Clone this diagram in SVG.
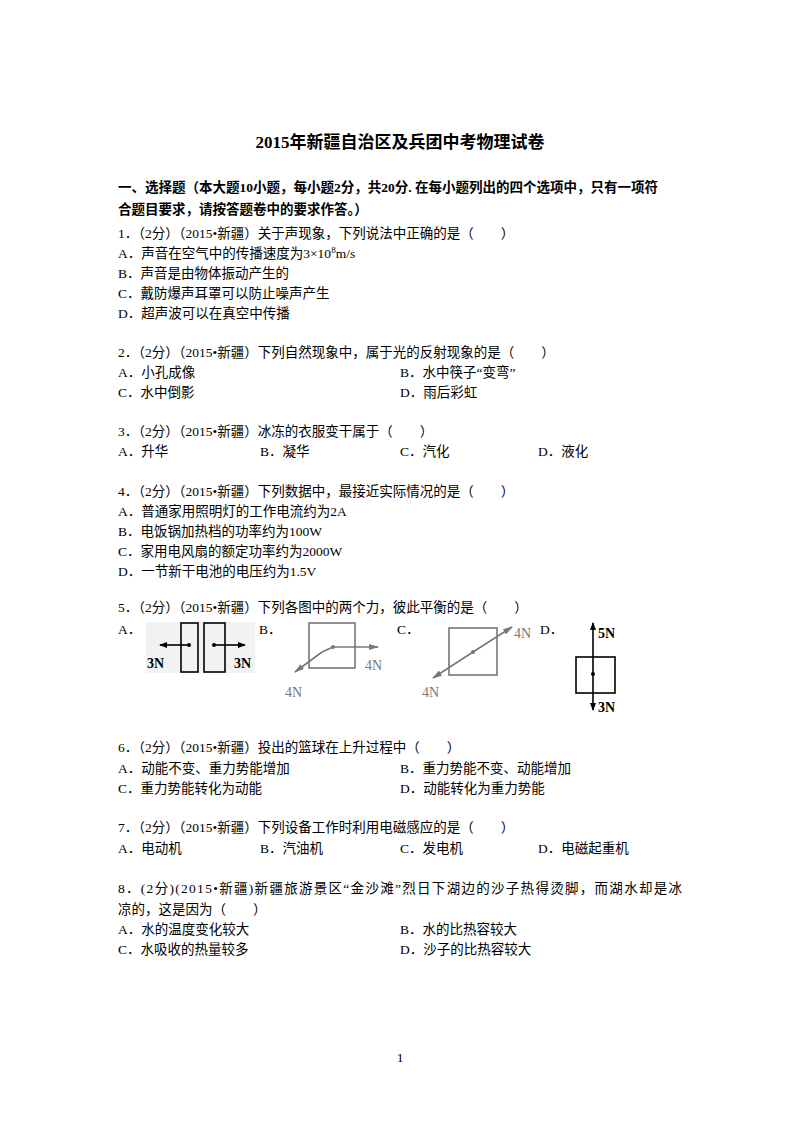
<svg xmlns="http://www.w3.org/2000/svg" width="800" height="1132" viewBox="0 0 800 1132">
<style>
text{font-family:"Liberation Serif","Noto Sans CJK SC",serif;font-size:13.5px;fill:#000}
.t{font-size:17px;font-weight:bold}
.b{font-weight:bold}
.f{font-family:"Liberation Serif",serif;font-size:14px}
.g{fill:#777}
.s{stroke:#000;stroke-width:1.6;fill:none}
.sg{stroke:#777;stroke-width:1.6;fill:none}
</style>
<defs>
<marker id="ak" markerWidth="8" markerHeight="6" refX="7" refY="3" orient="auto" markerUnits="userSpaceOnUse" viewBox="0 0 8 6"><path d="M0,0L8,3L0,6z" fill="#000"/></marker>
<marker id="ag" markerWidth="10" markerHeight="6" refX="9" refY="3" orient="auto" markerUnits="userSpaceOnUse" viewBox="0 0 10 6"><path d="M0,0L10,3L0,6z" fill="#777"/></marker>
</defs>
<rect width="800" height="1132" fill="#fff"/>
<text x="400" y="148" text-anchor="middle" class="t">2015年新疆自治区及兵团中考物理试卷</text>
<text x="118" y="192" class="b">一、选择题（本大题10小题，每小题2分，共20分. 在每小题列出的四个选项中，只有一项符</text>
<text x="118" y="214" class="b">合题目要求，请按答题卷中的要求作答。）</text>
<text x="118" y="238">1．（2分）（2015•新疆）关于声现象，下列说法中正确的是（　　）</text>
<text x="118" y="258">A．声音在空气中的传播速度为3×10<tspan dy="-5" font-size="9">8</tspan><tspan dy="5">m/s</tspan></text>
<text x="118" y="278">B．声音是由物体振动产生的</text>
<text x="118" y="298">C．戴防爆声耳罩可以防止噪声产生</text>
<text x="118" y="318">D．超声波可以在真空中传播</text>
<text x="118" y="357">2．（2分）（2015•新疆）下列自然现象中，属于光的反射现象的是（　　）</text>
<text x="118" y="377">A．小孔成像</text><text x="400" y="377">B．水中筷子“变弯”</text>
<text x="118" y="397">C．水中倒影</text><text x="400" y="397">D．雨后彩虹</text>
<text x="118" y="436">3．（2分）（2015•新疆）冰冻的衣服变干属于（　　）</text>
<text x="118" y="456">A．升华</text><text x="260" y="456">B．凝华</text><text x="400" y="456">C．汽化</text><text x="538" y="456">D．液化</text>
<text x="118" y="496">4．（2分）（2015•新疆）下列数据中，最接近实际情况的是（　　）</text>
<text x="118" y="516">A．普通家用照明灯的工作电流约为2A</text>
<text x="118" y="536">B．电饭锅加热档的功率约为100W</text>
<text x="118" y="556">C．家用电风扇的额定功率约为2000W</text>
<text x="118" y="576">D．一节新干电池的电压约为1.5V</text>
<text x="118" y="612">5．（2分）（2015•新疆）下列各图中的两个力，彼此平衡的是（　　）</text>
<text x="118" y="634">A．</text><text x="259" y="634">B．</text><text x="397" y="634">C．</text><text x="540" y="634">D．</text>
<g id="figA">
<rect x="146" y="622" width="109" height="51" fill="#f2f2f2"/>
<rect x="181" y="623" width="17" height="49" class="s"/>
<rect x="204" y="623" width="21" height="49" class="s"/>
<line x1="189" y1="645" x2="160" y2="645" class="s" marker-end="url(#ak)"/>
<line x1="214" y1="645" x2="245" y2="645" class="s" marker-end="url(#ak)"/>
<circle cx="189" cy="645" r="2" fill="#000"/><circle cx="214" cy="645" r="2" fill="#000"/>
<text x="147" y="668" class="f b">3N</text><text x="234" y="668" class="f b">3N</text>
</g>
<g id="figB">
<rect x="309" y="623" width="46" height="45" class="sg"/>
<line x1="333" y1="647" x2="378" y2="647" class="sg" marker-end="url(#ag)"/>
<polyline points="333,647 322,652" class="sg"/>
<line x1="322" y1="652" x2="295" y2="672" class="sg" marker-end="url(#ag)"/>
<circle cx="333" cy="647" r="2" fill="#777"/>
<text x="365" y="670" class="f g" font-size="16">4N</text><text x="285" y="697" class="f g" font-size="16">4N</text>
</g>
<g id="figC">
<rect x="449" y="628" width="48" height="47" class="sg"/>
<line x1="473" y1="652" x2="512" y2="627" class="sg" marker-end="url(#ag)"/>
<line x1="473" y1="652" x2="433" y2="678" class="sg" marker-end="url(#ag)"/>
<circle cx="473" cy="652" r="2" fill="#777"/>
<text x="514" y="638" class="f g" font-size="16">4N</text><text x="422" y="697" class="f g" font-size="16">4N</text>
</g>
<g id="figD">
<rect x="576" y="657" width="39" height="36" class="s"/>
<line x1="593" y1="674" x2="593" y2="623" class="s" marker-end="url(#ak)"/>
<line x1="593" y1="674" x2="593" y2="710" class="s" marker-end="url(#ak)"/>
<circle cx="593" cy="674" r="2" fill="#000"/>
<text x="598" y="638" class="f b">5N</text><text x="598" y="712" class="f b">3N</text>
</g>
<text x="118" y="752">6．（2分）（2015•新疆）投出的篮球在上升过程中（　　）</text>
<text x="118" y="773">A．动能不变、重力势能增加</text><text x="400" y="773">B．重力势能不变、动能增加</text>
<text x="118" y="793">C．重力势能转化为动能</text><text x="400" y="793">D．动能转化为重力势能</text>
<text x="118" y="832">7．（2分）（2015•新疆）下列设备工作时利用电磁感应的是（　　）</text>
<text x="118" y="853">A．电动机</text><text x="260" y="853">B．汽油机</text><text x="400" y="853">C．发电机</text><text x="538" y="853">D．电磁起重机</text>
<text x="118" y="893" textLength="564">8．(2分)(2015•新疆)新疆旅游景区“金沙滩”烈日下湖边的沙子热得烫脚，而湖水却是冰</text>
<text x="118" y="914">凉的，这是因为（　　）</text>
<text x="118" y="934">A．水的温度变化较大</text><text x="400" y="934">B．水的比热容较大</text>
<text x="118" y="954">C．水吸收的热量较多</text><text x="400" y="954">D．沙子的比热容较大</text>
<text x="400" y="1062" text-anchor="middle" font-size="12">1</text>
</svg>
